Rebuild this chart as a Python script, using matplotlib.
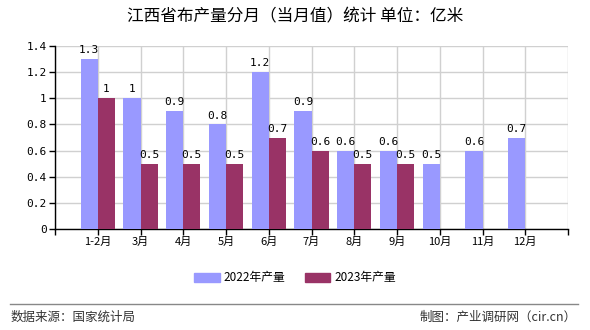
import matplotlib
matplotlib.use('Agg')
import matplotlib.pyplot as plt
import numpy as np
from matplotlib.lines import Line2D

plt.rcParams['font.family'] = ['Noto Sans CJK SC', 'DejaVu Sans']

months = ['1-2月', '3月', '4月', '5月', '6月', '7月', '8月', '9月', '10月', '11月', '12月']
output_2022 = [1.3, 1, 0.9, 0.8, 1.2, 0.9, 0.6, 0.6, 0.5, 0.6, 0.7]
output_2023 = [1, 0.5, 0.5, 0.5, 0.7, 0.6, 0.5, 0.5]
series_names = ['2022年产量', '2023年产量']
y_ticks = [0, 0.2, 0.4, 0.6, 0.8, 1, 1.2, 1.4]

c22 = '#9999FF'
c23 = '#993366'

def fmt(v):
    return ('%g' % v)

fig = plt.figure(figsize=(5.9, 3.3), dpi=100)
ax = fig.add_axes([55 / 590, 1 - 229 / 330, 513 / 590, 183 / 330])

x22 = np.arange(len(output_2022))
x23 = np.arange(len(output_2023))
w = 0.4
ax.bar(x22 - w / 2, output_2022, width=w, color=c22, zorder=3)
ax.bar(x23 + w / 2, output_2023, width=w, color=c23, zorder=3)

for x, v in zip(x22, output_2022):
    ax.text(x - w / 2, v + 0.03, fmt(v), ha='center', va='bottom', fontsize=8,
            family=['DejaVu Sans Mono'])
for x, v in zip(x23, output_2023):
    ax.text(x + w / 2, v + 0.03, fmt(v), ha='center', va='bottom', fontsize=8,
            family=['DejaVu Sans Mono'])

ax.set_xlim(-1, 11)
ax.set_ylim(0, 1.4)
ax.set_yticks(y_ticks)
ax.set_yticklabels([fmt(v) for v in y_ticks], fontsize=8, family=['DejaVu Sans Mono'])
ax.set_xticks(np.arange(-1, 12))
ax.set_xticklabels([''] + months + [''], fontsize=8)
ax.tick_params(axis='x', length=4, width=1, pad=2)
ax.tick_params(axis='y', length=4, width=1, pad=2)

ax.grid(True, color='#d0d0d0', linewidth=1, zorder=0)
for s in ['top', 'right']:
    ax.spines[s].set_visible(False)
ax.spines['left'].set_linewidth(1)
ax.spines['bottom'].set_linewidth(1)

fig.text(0.5, 1 - 17 / 330, '江西省布产量分月（当月值）统计 单位：亿米', ha='center', va='center',
         fontsize=12)

handles = [plt.Rectangle((0, 0), 1, 1, color=c22), plt.Rectangle((0, 0), 1, 1, color=c23)]
fig.legend(handles, series_names, loc='center', bbox_to_anchor=(0.5, 1 - 278 / 330),
           ncol=2, frameon=False, fontsize=8.5, handlelength=2.2, handleheight=0.7,
           columnspacing=1.6, handletextpad=0.3)

fig.add_artist(Line2D([10 / 590, 578 / 590], [1 - 304 / 330, 1 - 304 / 330],
                      color='#888888', linewidth=1))
fig.text(11 / 590, 1 - 317 / 330, '数据来源：国家统计局', ha='left', va='center',
         fontsize=9, color='#333333')
fig.text(577 / 590, 1 - 317 / 330, '制图：产业调研网（cir.cn）', ha='right', va='center',
         fontsize=9, color='#333333')

fig.savefig('out.png', dpi=100)
